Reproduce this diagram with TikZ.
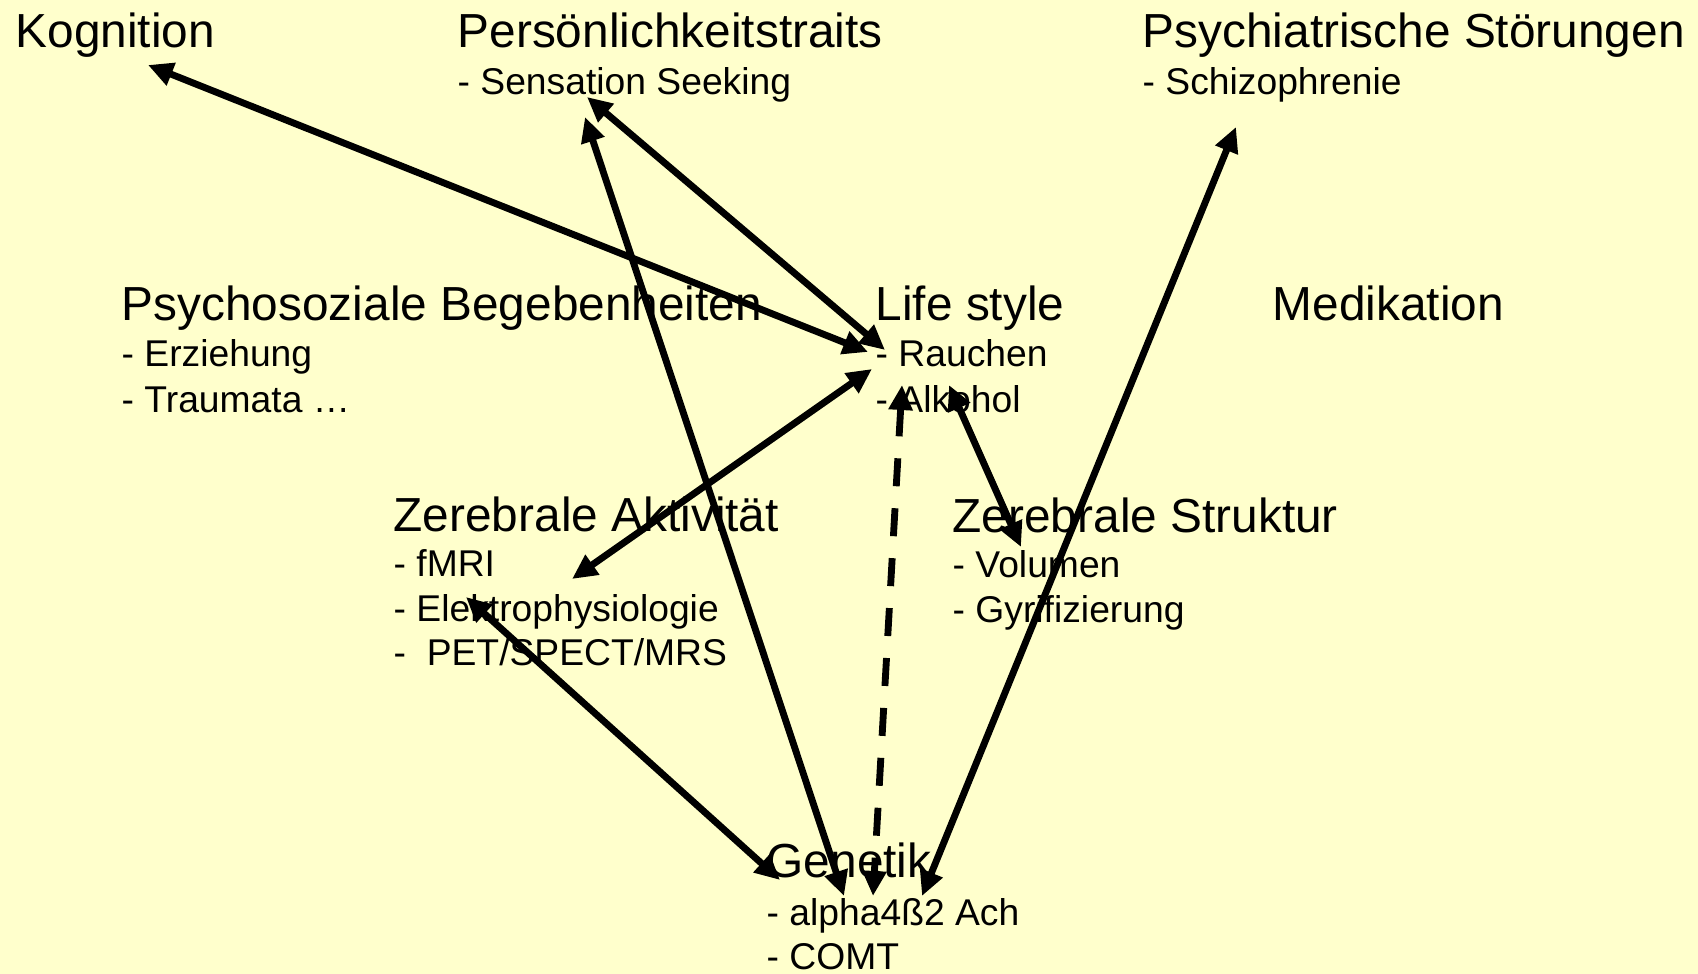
\documentclass[tikz,border=0pt]{standalone}
\usepackage{fontspec}
\setmainfont{Liberation Sans}
\usetikzlibrary{arrows.meta}
\definecolor{bgyellow}{HTML}{FFFFCC}

\begin{document}
\begin{tikzpicture}[
  ttl/.style={anchor=base west, inner sep=0pt, font=\fontsize{13.6}{16}\selectfont},
  sub/.style={anchor=base west, inner sep=0pt, font=\fontsize{10.6}{13}\selectfont},
  arr/.style={{Triangle[length=2.5mm,width=2.3mm]}-{Triangle[length=2.5mm,width=2.3mm]},
    draw=black, line width=1.95pt},
  dasharr/.style={arr, dash pattern=on 2.8mm off 2.2mm}
]
\fill[bgyellow] (0,0) rectangle (16.98,-9.74);
\useasboundingbox (0,0) rectangle (16.98,-9.74);

\node[ttl] (kog) at (0.15,-0.48) {Kognition};
\node[ttl] (pers) at (4.57,-0.48) {Persönlichkeitstraits};
\node[sub] (pers1) at (4.57,-0.95) {- Sensation Seeking};
\node[ttl] (psy) at (11.42,-0.48) {Psychiatrische Störungen};
\node[sub] (psy1) at (11.42,-0.95) {- Schizophrenie};
\node[ttl] (soz) at (1.21,-3.21) {Psychosoziale Begebenheiten};
\node[sub] (soz1) at (1.21,-3.67) {- Erziehung};
\node[sub] (soz2) at (1.21,-4.13) {- Traumata …};
\node[ttl] (life) at (8.75,-3.21) {Life style};
\node[sub] (life1) at (8.75,-3.67) {- Rauchen};
\node[sub] (life2) at (8.75,-4.13) {- Alkohol};
\node[ttl] (med) at (12.72,-3.21) {Medikation};
\node[ttl] (akt) at (3.93,-5.32) {Zerebrale Aktivität};
\node[sub] (akt1) at (3.93,-5.77) {- fMRI};
\node[sub] (akt2) at (3.93,-6.22) {- Elektrophysiologie};
\node[sub] (akt3) at (3.93,-6.66) {- \ PET/SPECT/MRS};
\node[ttl] (str) at (9.52,-5.33) {Zerebrale Struktur};
\node[sub] (str1) at (9.52,-5.78) {- Volumen};
\node[sub] (str2) at (9.52,-6.23) {- Gyrifizierung};
\node[ttl] (gen) at (7.66,-8.78) {Genetik};
\node[sub] (gen1) at (7.66,-9.26) {- alpha4ß2 Ach};
\node[sub] (gen2) at (7.66,-9.69) {- COMT};

\draw[arr] ([shift={(1.33,-0.17)}]kog.base west) -- ([shift={(-0.07,0.15)}]life1.base west);
\draw[arr] ([shift={(1.30,-0.02)}]pers1.base west) -- ([shift={(0.10,0.17)}]life1.base west);
\draw[arr] ([shift={(1.28,-0.22)}]pers1.base west) -- ([shift={(0.78,0.30)}]gen1.base west);
\draw[arr] ([shift={(-0.03,-0.02)}]life1.base west) -- ([shift={(1.79,-0.02)}]akt1.base west);
\draw[arr] ([shift={(0.73,0.25)}]akt2.base west) -- ([shift={(0.14,-0.02)}]gen.base west);
\draw[arr] ([shift={(0.74,0.28)}]life2.base west) -- ([shift={(0.69,0.31)}]str1.base west);
\draw[dasharr] ([shift={(0.27,0.28)}]life2.base west) -- ([shift={(1.07,0.30)}]gen1.base west);
\draw[arr] ([shift={(0.94,-0.32)}]psy1.base west) -- ([shift={(1.56,0.30)}]gen1.base west);
\end{tikzpicture}
\end{document}
